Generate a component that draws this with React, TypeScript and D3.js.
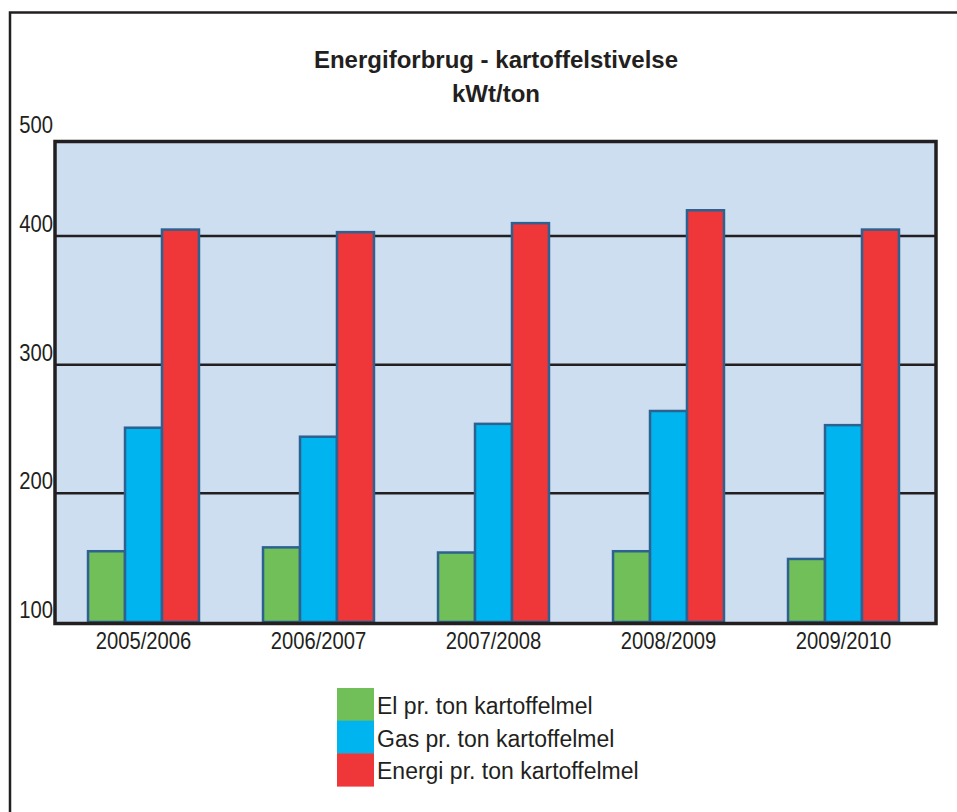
import { useEffect, useRef } from 'react';
import * as d3 from 'd3';

const seasons = ['2005/2006', '2006/2007', '2007/2008', '2008/2009', '2009/2010'];
const seriesNames = ['El pr. ton kartoffelmel', 'Gas pr. ton kartoffelmel', 'Energi pr. ton kartoffelmel'];
const elValues = [155, 158, 154, 155, 149];
const gasValues = [251, 244, 254, 264, 253];
const energiValues = [405, 403, 410, 420, 405];
const yTicks = [100, 200, 300, 400, 500];
const seriesColors = ['#70bf58', '#00b4ef', '#ef373a'];

function App() {
  const svgRef = useRef<SVGSVGElement>(null);

  const width = 957,
    height = 812;

  useEffect(() => {
    const svg = d3.select(svgRef.current);
    svg.selectAll('*').remove();

    const left = 55,
      right = 936,
      top = 141.5,
      bottom = 623.5;

    // bands are slightly tighter than the plot frame
    const x = d3.scaleBand().domain(seasons).range([56, 931]).paddingInner(0.366).paddingOuter(0.183);
    const xInner = d3.scaleBand().domain(seriesNames).range([0, x.bandwidth()]);
    const y = d3.scaleLinear().domain([100, 400]).range([622, 236]);

    const allSeries = [elValues, gasValues, energiValues];

    // outer frame (runs off the right and bottom edges)
    svg
      .append('rect')
      .attr('x', 10)
      .attr('y', 12.5)
      .attr('width', width + 20)
      .attr('height', height + 20)
      .attr('fill', 'none')
      .attr('stroke', '#231f20')
      .attr('stroke-width', 2.5);

    // title
    const title = svg
      .append('g')
      .attr('font-family', 'Liberation Sans, Arial, sans-serif')
      .attr('font-weight', 'bold')
      .attr('font-size', 24)
      .attr('fill', '#231f20')
      .attr('text-anchor', 'middle');
    title.append('text').attr('x', 496).attr('y', 68).text('Energiforbrug - kartoffelstivelse');
    title.append('text').attr('x', 496).attr('y', 102).text('kWt/ton');

    // plot background
    svg
      .append('rect')
      .attr('x', left)
      .attr('y', top)
      .attr('width', right - left)
      .attr('height', bottom - top)
      .attr('fill', '#cddef0');

    // gridlines
    svg
      .append('g')
      .selectAll('line')
      .data(yTicks.filter((t) => t > 100 && y(t) > top))
      .join('line')
      .attr('x1', left)
      .attr('x2', right)
      .attr('y1', (d) => y(d))
      .attr('y2', (d) => y(d))
      .attr('stroke', '#231f20')
      .attr('stroke-width', 2.5);

    // bars
    const groups = svg
      .append('g')
      .selectAll('g')
      .data(seasons)
      .join('g')
      .attr('transform', (d) => `translate(${x(d)},0)`);

    groups
      .selectAll('rect')
      .data((d, i) => seriesNames.map((s, j) => ({ s, j, v: allSeries[j][i] })))
      .join('rect')
      .attr('x', (d) => xInner(d.s)!)
      .attr('y', (d) => y(d.v))
      .attr('width', xInner.bandwidth())
      .attr('height', (d) => y(100) - y(d.v))
      .attr('fill', (d) => seriesColors[d.j])
      .attr('stroke', '#2c6190')
      .attr('stroke-width', 2.5);

    // plot border
    svg
      .append('rect')
      .attr('x', left)
      .attr('y', top)
      .attr('width', right - left)
      .attr('height', bottom - top)
      .attr('fill', 'none')
      .attr('stroke', '#231f20')
      .attr('stroke-width', 3.5);

    // y tick labels (condensed)
    const sx = 0.88;
    svg
      .append('g')
      .attr('transform', `scale(${sx},1)`)
      .attr('font-family', 'Liberation Sans, Arial, sans-serif')
      .attr('font-size', 23)
      .attr('fill', '#231f20')
      .attr('text-anchor', 'end')
      .selectAll('text')
      .data(yTicks)
      .join('text')
      .attr('x', 53 / sx)
      .attr('y', (d) => Math.max(y(d), top - 4) - 4)
      .text((d) => d);

    // x labels
    svg
      .append('g')
      .attr('transform', `scale(${sx},1)`)
      .attr('font-family', 'Liberation Sans, Arial, sans-serif')
      .attr('font-size', 23)
      .attr('fill', '#231f20')
      .attr('text-anchor', 'middle')
      .selectAll('text')
      .data(seasons)
      .join('text')
      .attr('x', (d) => (x(d)! + x.bandwidth() / 2) / sx)
      .attr('y', 649)
      .text((d) => d);

    // legend
    const legend = svg.append('g').attr('transform', 'translate(337,688)');
    const rowH = 32.7;
    legend
      .selectAll('rect')
      .data(seriesNames)
      .join('rect')
      .attr('x', 0)
      .attr('y', (d, i) => i * rowH)
      .attr('width', 37)
      .attr('height', rowH + 0.5)
      .attr('fill', (d, i) => seriesColors[i]);
    legend
      .selectAll('text')
      .data(seriesNames)
      .join('text')
      .attr('x', 40)
      .attr('y', (d, i) => 26 + i * rowH)
      .attr('font-family', 'Liberation Sans, Arial, sans-serif')
      .attr('font-size', 23)
      .attr('fill', '#231f20')
      .text((d) => d);
  }, []);

  return (
    <svg
      ref={svgRef}
      width={width}
      height={height}
      style={{ position: 'absolute', left: 0, top: 0, background: '#fff' }}
    ></svg>
  );
}

export default App;
